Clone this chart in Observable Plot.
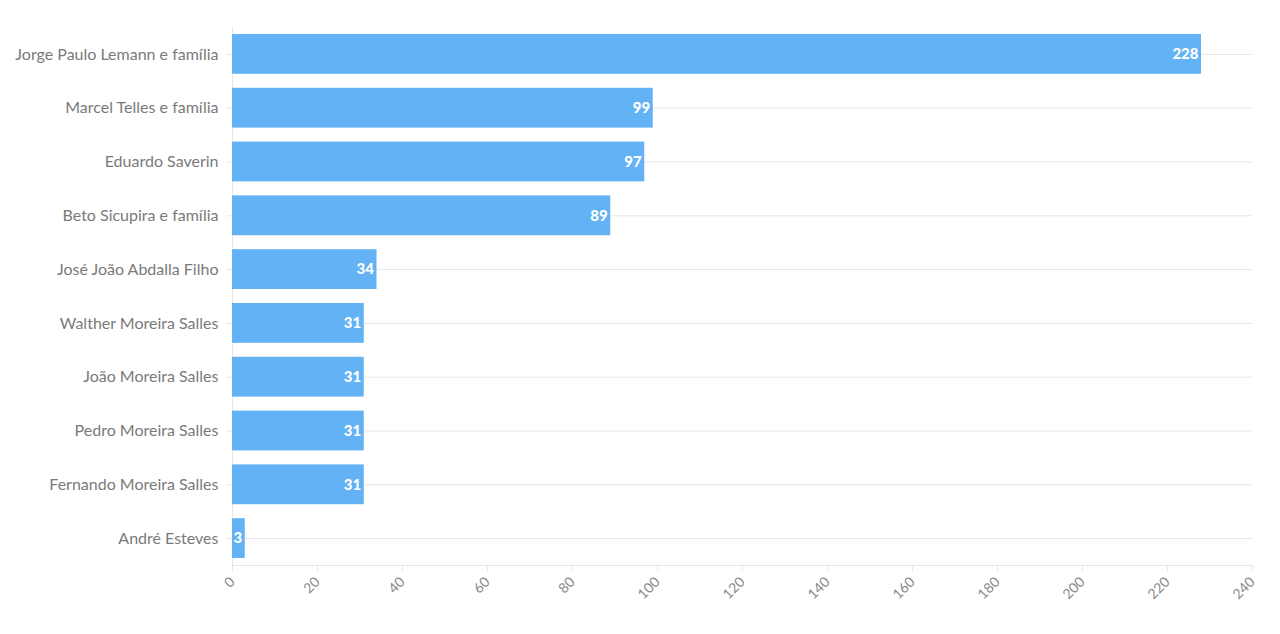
<!DOCTYPE html>
<html>
<head>
<meta charset="utf-8">
<script src="https://cdn.jsdelivr.net/npm/d3@7"></script>
<script src="https://cdn.jsdelivr.net/npm/@observablehq/plot@0.6"></script>
<style>
  html, body { margin: 0; padding: 0; background: #ffffff; }
  #chart { width: 1280px; height: 634px; }
</style>
</head>
<body>
<div id="chart"></div>
<script>
const names = [
  "Jorge Paulo Lemann e família",
  "Marcel Telles e família",
  "Eduardo Saverin",
  "Beto Sicupira e família",
  "José João Abdalla Filho",
  "Walther Moreira Salles",
  "João Moreira Salles",
  "Pedro Moreira Salles",
  "Fernando Moreira Salles",
  "André Esteves"
];
const values = [228, 99, 97, 89, 34, 31, 31, 31, 31, 3];
const xTicks = [0, 20, 40, 60, 80, 100, 120, 140, 160, 180, 200, 220, 240];

const data = names.map((n, i) => ({name: n, value: values[i]}));

const chart = Plot.plot({
  width: 1280,
  height: 634,
  marginLeft: 232,
  marginRight: 28,
  marginTop: 27,
  marginBottom: 69,
  style: {fontFamily: "Lato, 'Noto Sans', sans-serif", background: "#ffffff"},
  x: {domain: [0, 240], ticks: xTicks, label: null},
  y: {domain: names, padding: 0, round: false, label: null},
  marks: [
    Plot.gridY({stroke: "#e6e6e6", strokeOpacity: 1}),
    Plot.frame({anchor: "left", stroke: "#e6e6e6"}),
    Plot.frame({anchor: "bottom", stroke: "#e6e6e6"}),
    Plot.barX(data, {x: "value", y: "name", fill: "#62b2f5", insetTop: 7, insetBottom: 7}),
    Plot.text(data, {x: "value", y: "name", text: d => String(d.value), textAnchor: "end", dx: -3, fill: "#ffffff", fontWeight: 900, fontSize: 15}),
    Plot.axisY({tickSize: 6, tickPadding: 8, stroke: "#e6e6e6", fill: "#7a7a7a", fontSize: 16, label: null}),
    Plot.axisX({ticks: xTicks, tickSize: 6, tickPadding: 8, tickRotate: -45, stroke: "#e6e6e6", fill: "#8a8a8a", fontSize: 14, label: null})
  ]
});
document.getElementById("chart").appendChild(chart);
</script>
</body>
</html>
